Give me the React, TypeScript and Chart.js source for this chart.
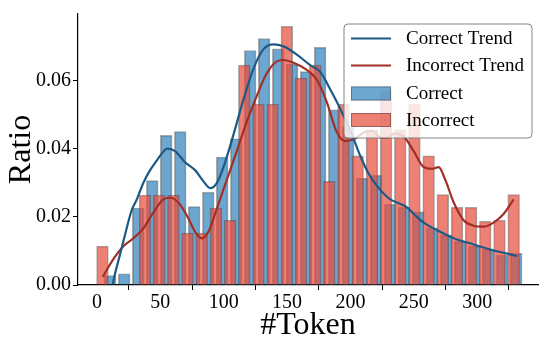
import React, { useEffect, useRef } from 'react';
import { Chart, registerables } from 'chart.js';

Chart.register(...registerables);

// ---- data ----
const correctBinCenters = [10.4, 21.5, 32.5, 43.6, 54.6, 65.7, 76.7, 87.8, 98.8, 109.9, 120.9, 131.9, 143.0, 154.0, 165.1, 176.1, 187.2, 198.2, 209.3, 220.3, 231.4, 242.4, 253.5, 264.5, 275.6, 286.6, 297.7, 308.7, 319.8, 330.8];
const correctRatios = [0.0028, 0.0033, 0.0226, 0.0306, 0.0439, 0.0450, 0.0230, 0.0272, 0.0375, 0.0429, 0.0688, 0.0723, 0.0693, 0.0648, 0.0626, 0.0697, 0.0514, 0.0463, 0.0313, 0.0322, 0.0237, 0.0228, 0.0215, 0.0168, 0.0147, 0.0128, 0.0114, 0.0105, 0.0088, 0.0093];

const incorrectBinCenters = [4.3, 15.5, 26.7, 37.9, 49.1, 60.3, 71.4, 82.6, 93.8, 105.0, 116.2, 127.4, 138.6, 149.8, 161.0, 172.2, 183.3, 194.5, 205.7, 216.9, 228.1, 239.3, 250.5, 261.7, 272.9, 284.1, 295.2, 306.4, 317.6, 328.8];
const incorrectRatios = [0.0114, 0, 0, 0.0264, 0.0264, 0.0264, 0.0152, 0.0152, 0.0226, 0.0190, 0.0645, 0.0531, 0.0531, 0.0759, 0.0607, 0.0645, 0.0304, 0.0531, 0.0379, 0.0455, 0.0569, 0.0455, 0.0531, 0.0379, 0.0265, 0.0228, 0.0228, 0.0187, 0.0190, 0.0265];

const correctTrendX = [12.5, 14.2, 17.5, 20.8, 27.4, 31.3, 36.6, 41.9, 47.1, 51.0, 55.5, 61.6, 69.5, 77.4, 84.0, 89.3, 94.5, 99.8, 107.7, 115.6, 123.5, 131.4, 139.3, 147.2, 157.7, 168.2, 176.1, 184.0, 191.9, 201.2, 207.7, 214.3, 222.2, 231.4, 238.0, 244.6, 251.2, 257.8, 268.3, 281.5, 297.3, 310.4, 331.5];
const correctTrendY = [0.0003, 0.0033, 0.0080, 0.0128, 0.0220, 0.0250, 0.0300, 0.0337, 0.0365, 0.0385, 0.0400, 0.0393, 0.0360, 0.0337, 0.0304, 0.0284, 0.0299, 0.0346, 0.0441, 0.0545, 0.0635, 0.0692, 0.0706, 0.0700, 0.0676, 0.0645, 0.0626, 0.0574, 0.0517, 0.0441, 0.0379, 0.0327, 0.0285, 0.0251, 0.0240, 0.0228, 0.0204, 0.0183, 0.0161, 0.0137, 0.0119, 0.0104, 0.0085];

const incorrectTrendX = [4.5, 12.9, 20.8, 28.7, 36.6, 44.5, 52.4, 57.7, 64.2, 70.9, 77.4, 82.7, 87.9, 94.5, 102.4, 110.3, 118.2, 126.1, 134.0, 141.9, 147.2, 155.1, 165.6, 173.5, 181.4, 189.0, 195.9, 203.0, 211.0, 217.0, 224.0, 229.0, 235.0, 242.0, 249.9, 257.8, 264.4, 269.6, 274.9, 281.5, 289.3, 297.2, 305.1, 313.0, 321.0, 328.8];
const incorrectTrendY = [0.0024, 0.0076, 0.0114, 0.0137, 0.0166, 0.0213, 0.0251, 0.0256, 0.0242, 0.0204, 0.0156, 0.0137, 0.0156, 0.0223, 0.0308, 0.0393, 0.0479, 0.0555, 0.0621, 0.0656, 0.0660, 0.0652, 0.0631, 0.0602, 0.0536, 0.0450, 0.0422, 0.0428, 0.0448, 0.0452, 0.0432, 0.0432, 0.0445, 0.0436, 0.0393, 0.0346, 0.0341, 0.0346, 0.0308, 0.0242, 0.0190, 0.0174, 0.0171, 0.0183, 0.0209, 0.0251];

const xTickValues = [0, 50, 100, 150, 200, 250, 300];
const yTickValues = [0, 0.02, 0.04, 0.06];
const seriesNames = ['Correct Trend', 'Incorrect Trend', 'Correct', 'Incorrect'];
const xAxisTitle = '#Token';
const yAxisTitle = 'Ratio';

// ---- styles ----
const FONT = "'Liberation Serif', 'Times New Roman', Times, serif";
const BLUE_FILL = 'rgba(31,119,180,0.65)';
const RED_FILL = 'rgba(231,76,60,0.7)';
const BAR_EDGE = 'rgba(60,60,60,0.45)';
const BLUE_LINE = '#1c5a85';
const RED_LINE = '#a22f26';

const legendPlugin = {
  id: 'insetLegend',
  afterDatasetsDraw(chart: any) {
    const { ctx, chartArea } = chart;
    const w = 188;
    const h = 114;
    const x0 = chartArea.right - 6 - w;
    const y0 = chartArea.top + 10;
    ctx.save();
    const r = 4;
    ctx.beginPath();
    ctx.moveTo(x0 + r, y0);
    ctx.lineTo(x0 + w - r, y0);
    ctx.quadraticCurveTo(x0 + w, y0, x0 + w, y0 + r);
    ctx.lineTo(x0 + w, y0 + h - r);
    ctx.quadraticCurveTo(x0 + w, y0 + h, x0 + w - r, y0 + h);
    ctx.lineTo(x0 + r, y0 + h);
    ctx.quadraticCurveTo(x0, y0 + h, x0, y0 + h - r);
    ctx.lineTo(x0, y0 + r);
    ctx.quadraticCurveTo(x0, y0, x0 + r, y0);
    ctx.closePath();
    ctx.fillStyle = 'rgba(255,255,255,0.8)';
    ctx.fill();
    ctx.strokeStyle = 'rgba(120,120,120,0.9)';
    ctx.lineWidth = 1;
    ctx.stroke();

    const rows = [14.5, 41.5, 69.5, 96];
    const sx0 = x0 + 7;
    const sx1 = x0 + 47;
    ctx.font = `19px ${FONT}`;
    ctx.textBaseline = 'middle';
    ctx.textAlign = 'left';
    rows.forEach((dy, i) => {
      const cy = y0 + dy;
      if (i < 2) {
        ctx.beginPath();
        ctx.moveTo(sx0, cy);
        ctx.lineTo(sx1, cy);
        ctx.strokeStyle = i === 0 ? BLUE_LINE : RED_LINE;
        ctx.lineWidth = 2.2;
        ctx.stroke();
      } else {
        ctx.fillStyle = i === 2 ? BLUE_FILL : RED_FILL;
        ctx.fillRect(sx0, cy - 7, sx1 - sx0, 14);
        ctx.strokeStyle = BAR_EDGE;
        ctx.lineWidth = 1;
        ctx.strokeRect(sx0 + 0.5, cy - 6.5, sx1 - sx0 - 1, 13);
      }
      ctx.fillStyle = '#000';
      ctx.fillText(seriesNames[i], x0 + 62, cy + 1);
    });
    ctx.restore();
  },
};

export default function App() {
  const canvasRef = useRef<HTMLCanvasElement | null>(null);

  useEffect(() => {
    if (!canvasRef.current) return;
    const toPts = (xs: number[], ys: number[]) => xs.map((x, i) => ({ x, y: ys[i] }));

    const chart = new Chart(canvasRef.current, {
      type: 'bar',
      data: {
        datasets: [
          {
            type: 'line',
            label: seriesNames[0],
            data: toPts(correctTrendX, correctTrendY),
            borderColor: BLUE_LINE,
            borderWidth: 2.2,
            pointRadius: 0,
            fill: false,
            cubicInterpolationMode: 'monotone',
            order: 0,
          } as any,
          {
            type: 'line',
            label: seriesNames[1],
            data: toPts(incorrectTrendX, incorrectTrendY),
            borderColor: RED_LINE,
            borderWidth: 2.2,
            pointRadius: 0,
            fill: false,
            cubicInterpolationMode: 'monotone',
            order: 1,
          } as any,
          {
            type: 'bar',
            label: seriesNames[3],
            data: toPts(incorrectBinCenters, incorrectRatios),
            backgroundColor: RED_FILL,
            borderColor: BAR_EDGE,
            borderWidth: 1,
            barThickness: 11.7,
            grouped: false,
            order: 2,
          } as any,
          {
            type: 'bar',
            label: seriesNames[2],
            data: toPts(correctBinCenters, correctRatios),
            backgroundColor: BLUE_FILL,
            borderColor: BAR_EDGE,
            borderWidth: 1,
            barThickness: 11.7,
            grouped: false,
            order: 3,
          } as any,
        ],
      },
      options: {
        animation: false,
        responsive: false,
        devicePixelRatio: 1,
        layout: { padding: { top: 5, right: 10, left: 0, bottom: 0 } },
        plugins: {
          legend: { display: false },
          tooltip: { enabled: false },
        },
        scales: {
          x: {
            type: 'linear',
            min: -15,
            max: 348,
            offset: false,
            grid: {
              display: true,
              drawOnChartArea: false,
              drawTicks: true,
              tickLength: 5,
              tickColor: '#000',
              tickWidth: 1,
            },
            border: { display: true, color: '#000', width: 1.2 },
            ticks: {
              color: '#000',
              font: { family: FONT, size: 20 },
              padding: 1,
              maxRotation: 0,
              autoSkip: false,
              includeBounds: false,
            },
            title: {
              display: true,
              text: xAxisTitle,
              color: '#000',
              font: { family: FONT, size: 32 },
              padding: { top: 0, bottom: 0 },
            },
            afterBuildTicks: (scale: any) => {
              scale.ticks = xTickValues.map((v) => ({ value: v }));
            },
            afterFit: (scale: any) => {
              scale.height = 60;
            },
          } as any,
          y: {
            type: 'linear',
            min: 0,
            max: 0.0795,
            grid: {
              display: true,
              drawOnChartArea: false,
              drawTicks: true,
              tickLength: 5,
              tickColor: '#000',
              tickWidth: 1,
            },
            border: { display: true, color: '#000', width: 1.2 },
            ticks: {
              color: '#000',
              font: { family: FONT, size: 20 },
              padding: 2,
              includeBounds: false,
              callback: (v: any) => Number(v).toFixed(2),
            },
            title: {
              display: true,
              text: yAxisTitle,
              color: '#000',
              font: { family: FONT, size: 32 },
              padding: { top: 2, bottom: 0 },
            },
            afterBuildTicks: (scale: any) => {
              scale.ticks = yTickValues.map((v) => ({ value: v }));
            },
            afterFit: (scale: any) => {
              scale.width = 78;
            },
          } as any,
        },
      },
      plugins: [legendPlugin],
    });

    return () => chart.destroy();
  }, []);

  return (
    <div style={{ position: 'absolute', left: 0, top: 0, width: 548, height: 345, background: '#fff' }}>
      <canvas ref={canvasRef} width={548} height={345} style={{ display: 'block', width: 548, height: 345 }} />
    </div>
  );
}
